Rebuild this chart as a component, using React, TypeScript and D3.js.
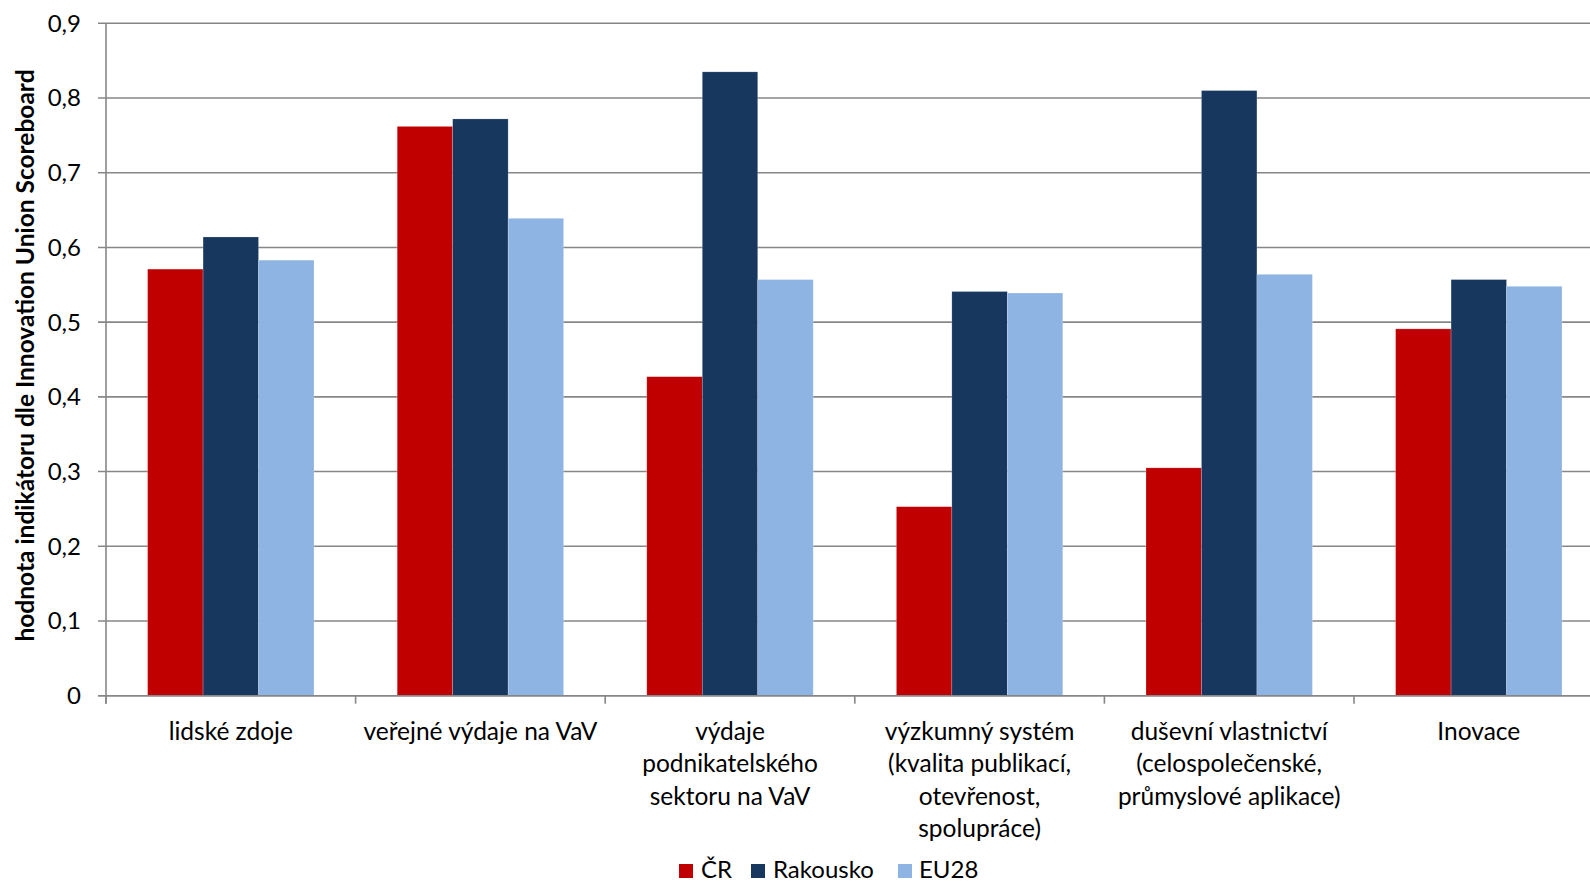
import React from "react";
import * as d3 from "d3";

const categories: string[][] = [
  ["lidské zdoje"],
  ["veřejné výdaje na VaV"],
  ["výdaje", "podnikatelského", "sektoru na VaV"],
  ["výzkumný systém", "(kvalita publikací,", "otevřenost,", "spolupráce)"],
  ["duševní vlastnictví", "(celospolečenské,", "průmyslové aplikace)"],
  ["Inovace"],
];
const seriesNames = ["ČR", "Rakousko", "EU28"];
const cr = [0.571, 0.762, 0.427, 0.253, 0.305, 0.491];
const rakousko = [0.614, 0.772, 0.835, 0.541, 0.81, 0.557];
const eu28 = [0.583, 0.639, 0.557, 0.539, 0.564, 0.548];
const colors = ["#C00000", "#17375E", "#8EB4E3"];
const yTicks = [0, 0.1, 0.2, 0.3, 0.4, 0.5, 0.6, 0.7, 0.8, 0.9];
const yTitle = "hodnota indikátoru dle Innovation Union Scoreboard";

const W = 1590;
const H = 884;
const left = 106;
const step = 249.6;
const top = 23.3;
const bottom = 695.7;
const font = "Lato, 'Open Sans', sans-serif";

export default function App() {
  const values = [cr, rakousko, eu28];
  const catIdx = categories.map((_, i) => String(i));
  const x = d3
    .scaleBand<string>()
    .domain(catIdx)
    .range([left, left + step * categories.length])
    .paddingInner(0)
    .paddingOuter(0);
  const xi = d3
    .scaleBand<string>()
    .domain(seriesNames)
    .range([0, x.bandwidth()])
    .paddingInner(0)
    .paddingOuter(0.75);
  const y = d3.scaleLinear().domain([0, 0.9]).range([bottom, top]);
  const fmt = (v: number) => d3.format(".1f")(v).replace(".", ",").replace(/^0,0$/, "0");

  return (
    <svg
      width={W}
      height={H}
      style={{ position: "absolute", left: 0, top: 0, background: "#fff" }}
      fontFamily={font}
    >
      {yTicks.map((t) => (
        <line
          key={"g" + t}
          x1={left - 8}
          x2={W}
          y1={y(t)}
          y2={y(t)}
          stroke="#878787"
          strokeWidth={1.6}
        />
      ))}
      {values.map((vals, si) =>
        vals.map((v, ci) => (
          <rect
            key={si + "-" + ci}
            x={(x(String(ci)) as number) + (xi(seriesNames[si]) as number)}
            y={y(v)}
            width={xi.bandwidth()}
            height={y(0) - y(v)}
            fill={colors[si]}
            stroke="rgba(255,255,255,0.35)"
            strokeWidth={0.6}
          />
        ))
      )}
      <line x1={left} x2={left} y1={top} y2={bottom + 8} stroke="#878787" strokeWidth={1.6} />
      <line x1={left - 8} x2={W} y1={bottom} y2={bottom} stroke="#878787" strokeWidth={1.6} />
      {catIdx.map((c) => (
        <line
          key={"t" + c}
          x1={x(c) as number}
          x2={x(c) as number}
          y1={bottom}
          y2={bottom + 8}
          stroke="#878787"
          strokeWidth={1.6}
        />
      ))}
      {yTicks.map((t) => (
        <text
          key={"l" + t}
          x={81}
          y={y(t)}
          dy="0.35em"
          textAnchor="end"
          fontSize={24}
          fill="#000"
        >
          {fmt(t)}
        </text>
      ))}
      {categories.map((lines, ci) => (
        <text
          key={"c" + ci}
          x={(x(String(ci)) as number) + x.bandwidth() / 2}
          y={731}
          textAnchor="middle"
          fontSize={24.5}
          fill="#000"
        >
          {lines.map((ln, li) => (
            <tspan key={li} x={(x(String(ci)) as number) + x.bandwidth() / 2} dy={li === 0 ? "0.35em" : 32.5}>
              {ln}
            </tspan>
          ))}
        </text>
      ))}
      <text
        transform={`translate(25, ${(top + bottom) / 2 - 4}) rotate(-90)`}
        textAnchor="middle"
        dy="0.35em"
        fontSize={24.5}
        fontWeight="bold"
        fill="#000"
      >
        {yTitle}
      </text>
      {[
        { x: 679, tx: 701 },
        { x: 751, tx: 773 },
        { x: 898, tx: 919 },
      ].map((p, i) => (
        <g key={"lg" + i}>
          <rect x={p.x} y={864} width={14} height={14} fill={colors[i]} />
          <text x={p.tx} y={870} dy="0.35em" fontSize={24} fill="#000">
            {seriesNames[i]}
          </text>
        </g>
      ))}
    </svg>
  );
}
